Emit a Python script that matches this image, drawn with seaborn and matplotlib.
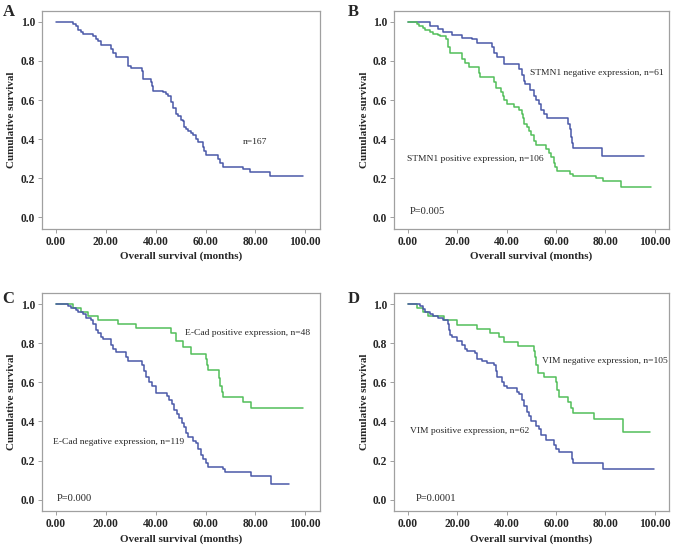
import pandas as pd
import seaborn as sns
import matplotlib
matplotlib.use('Agg')
import matplotlib.pyplot as plt

# Panel A - all patients
a_time = [0, 7, 8, 9, 10, 11, 15, 16, 17, 18,
          22, 23, 24, 29, 30, 34.5, 35, 38, 38.5, 39,
          43, 44, 45, 46, 47, 48, 49, 50, 51, 51.5,
          52, 53, 54, 55, 56, 57, 59, 59.5, 60, 65,
          66, 67, 75, 78, 86, 98.9]
a_surv = [1.0, 0.99, 0.98, 0.96, 0.95, 0.94, 0.93, 0.91, 0.90, 0.88,
          0.86, 0.84, 0.82, 0.772, 0.765, 0.75, 0.707, 0.69, 0.67, 0.649,
          0.64, 0.63, 0.62, 0.59, 0.56, 0.528, 0.52, 0.50, 0.494, 0.46,
          0.451, 0.44, 0.43, 0.42, 0.40, 0.385, 0.36, 0.34, 0.32, 0.30,
          0.28, 0.26, 0.25, 0.23, 0.21, 0.21]

# Panel B - STMN1
b_neg_time = [0, 9, 12, 14, 18, 22, 26, 28, 34, 35,
              36, 39, 45, 46, 46.8, 47.5, 49.5, 51, 52, 53,
              54, 55, 56.5, 65, 65.5, 66, 66.5, 67, 78.5, 95.5]
b_neg_surv = [1.0, 0.98, 0.965, 0.95, 0.935, 0.92, 0.91, 0.89, 0.87, 0.84,
              0.82, 0.785, 0.76, 0.73, 0.70, 0.68, 0.65, 0.62, 0.60, 0.58,
              0.55, 0.53, 0.51, 0.48, 0.45, 0.41, 0.38, 0.355, 0.315, 0.315]
b_pos_time = [0, 3.5, 4.5, 6, 7, 9, 10, 12, 13, 15.2,
              16, 17, 22, 23, 24.5, 28.6, 29.2, 35, 35.5, 37.5,
              38.5, 39, 40, 43, 45, 46, 46.5, 47, 48, 49,
              50, 51, 52, 56, 57, 58, 59, 59.5, 60.5, 65.5,
              67, 76, 79, 86.3, 98.3]
b_pos_surv = [1.0, 0.99, 0.98, 0.97, 0.96, 0.95, 0.94, 0.935, 0.93, 0.91,
              0.87, 0.84, 0.81, 0.79, 0.77, 0.74, 0.72, 0.69, 0.66, 0.64,
              0.62, 0.60, 0.58, 0.565, 0.55, 0.53, 0.51, 0.48, 0.46, 0.44,
              0.42, 0.39, 0.37, 0.35, 0.33, 0.31, 0.28, 0.26, 0.235, 0.22,
              0.21, 0.20, 0.187, 0.157, 0.157]

# Panel C - E-Cad
c_pos_time = [0, 7, 10, 13, 17, 25, 32, 46, 48, 51,
              54, 60, 60.5, 61, 65.5, 66, 66.5, 67, 75.2, 78.2, 98.9]
c_pos_surv = [1.0, 0.98, 0.96, 0.94, 0.92, 0.897, 0.877, 0.85, 0.81, 0.78,
              0.747, 0.72, 0.69, 0.663, 0.62, 0.58, 0.55, 0.523, 0.50, 0.467, 0.467]
c_neg_time = [0, 5, 6, 8, 9, 11, 12, 14, 15, 16,
              17, 18, 19, 22, 23, 24, 28, 29, 34.5, 35.2,
              36, 37.5, 38.5, 40, 44.5, 45.5, 46.5, 47.5, 48.5, 49.5,
              50.5, 51.2, 52, 53, 55, 56, 57, 58, 59, 60,
              61, 67, 68, 78.3, 86.3, 93.4]
c_neg_surv = [1.0, 0.99, 0.98, 0.97, 0.96, 0.95, 0.93, 0.92, 0.90, 0.87,
              0.85, 0.83, 0.82, 0.79, 0.77, 0.756, 0.73, 0.708, 0.69, 0.66,
              0.627, 0.60, 0.58, 0.547, 0.53, 0.51, 0.49, 0.46, 0.44, 0.42,
              0.39, 0.37, 0.342, 0.32, 0.30, 0.29, 0.26, 0.231, 0.21, 0.19,
              0.168, 0.155, 0.142, 0.123, 0.079, 0.079]

# Panel D - VIM
d_neg_time = [0, 3.5, 6, 8, 14.5, 20, 28, 33, 37, 39,
              44.5, 51, 51.5, 52, 52.5, 55, 60, 60.5, 61, 65,
              66, 67, 75.5, 87, 98.2]
d_neg_surv = [1.0, 0.98, 0.96, 0.937, 0.918, 0.892, 0.872, 0.85, 0.83, 0.807,
              0.786, 0.76, 0.73, 0.69, 0.65, 0.627, 0.60, 0.56, 0.525, 0.50,
              0.47, 0.444, 0.415, 0.345, 0.345]
d_pos_time = [0, 5, 6, 7, 9, 10, 12, 14, 16, 16.5,
              17, 18, 20, 22, 23, 24, 27, 28, 30, 32,
              35, 35.5, 36, 38, 39, 40, 44, 45, 46, 47,
              48, 49, 50, 52, 53, 54, 56, 59, 60, 61,
              66.5, 67, 79, 99.6]
d_pos_surv = [1.0, 0.99, 0.975, 0.96, 0.95, 0.94, 0.93, 0.92, 0.90, 0.87,
              0.84, 0.83, 0.81, 0.79, 0.77, 0.76, 0.75, 0.72, 0.71, 0.70,
              0.69, 0.66, 0.63, 0.60, 0.58, 0.571, 0.55, 0.54, 0.51, 0.48,
              0.45, 0.43, 0.40, 0.379, 0.36, 0.33, 0.303, 0.28, 0.26, 0.243,
              0.21, 0.188, 0.159, 0.159]

x_ticks = [0, 20, 40, 60, 80, 100]
y_ticks = [0.0, 0.2, 0.4, 0.6, 0.8, 1.0]

BLUE = '#4a58a8'
GREEN = '#52bf5a'
FRAME = '#a0a0a0'

sns.set_style('ticks')
plt.rcParams['font.family'] = ['Liberation Serif', 'DejaVu Serif']

fig = plt.figure(figsize=(6.77, 5.46), dpi=100)
axes = {
    'A': fig.add_axes([0.062, 0.581, 0.411, 0.399]),
    'B': fig.add_axes([0.582, 0.581, 0.406, 0.399]),
    'C': fig.add_axes([0.062, 0.064, 0.411, 0.399]),
    'D': fig.add_axes([0.582, 0.064, 0.406, 0.399]),
}

curves = {
    'A': [(a_time, a_surv, BLUE)],
    'B': [(b_neg_time, b_neg_surv, BLUE), (b_pos_time, b_pos_surv, GREEN)],
    'C': [(c_pos_time, c_pos_surv, GREEN), (c_neg_time, c_neg_surv, BLUE)],
    'D': [(d_neg_time, d_neg_surv, GREEN), (d_pos_time, d_pos_surv, BLUE)],
}

notes = {
    'A': [(75, 0.385, 'n=167')],
    'B': [(49.4, 0.738, 'STMN1 negative expression, n=61'),
          (-0.4, 0.30, 'STMN1 positive expression, n=106'),
          (0.8, 0.03, 'P=0.005')],
    'C': [(51.8, 0.853, 'E-Cad positive expression, n=48'),
          (-1.3, 0.297, 'E-Cad negative expression, n=119'),
          (0.5, 0.005, 'P=0.000')],
    'D': [(54.2, 0.711, 'VIM negative expression, n=105'),
          (0.7, 0.352, 'VIM positive expression, n=62'),
          (3.1, 0.005, 'P=0.0001')],
}

for key, ax in axes.items():
    for t, s, col in curves[key]:
        df = pd.DataFrame({'time': t, 'surv': s})
        sns.lineplot(data=df, x='time', y='surv', ax=ax, color=col,
                     drawstyle='steps-post', linewidth=1.1, estimator=None)
    if key in ('A', 'C'):
        ax.set_xlim(-5.6, 106)
    else:
        ax.set_xlim(-5.7, 105.7)
    ax.set_ylim(-0.058, 1.056)
    ax.set_xticks(x_ticks)
    ax.set_xticklabels([f'{v:.2f}' for v in x_ticks], fontsize=8.3, fontweight='bold')
    ax.set_yticks(y_ticks)
    ax.set_yticklabels([f'{v:.1f}' for v in y_ticks], fontsize=8.3, fontweight='bold')
    ax.tick_params(length=3, width=0.7, color=FRAME, pad=2)
    for sp in ax.spines.values():
        sp.set_color(FRAME)
        sp.set_linewidth(0.9)
    ax.set_xlabel('Overall survival (months)', fontsize=8, fontweight='bold', labelpad=3)
    ax.set_ylabel('Cumulative survival', fontsize=8, fontweight='bold', labelpad=3)
    for x, y, txt in notes[key]:
        fs = 7.6 if txt.startswith('P=') else 6.8
        ax.text(x, y, txt, fontsize=fs, ha='left', va='center')

fig.text(0.004, 0.978, 'A', fontsize=12, fontweight='bold', va='center')
fig.text(0.514, 0.978, 'B', fontsize=12, fontweight='bold', va='center')
fig.text(0.004, 0.452, 'C', fontsize=12, fontweight='bold', va='center')
fig.text(0.514, 0.452, 'D', fontsize=12, fontweight='bold', va='center')

fig.savefig('out.png', dpi=100)
